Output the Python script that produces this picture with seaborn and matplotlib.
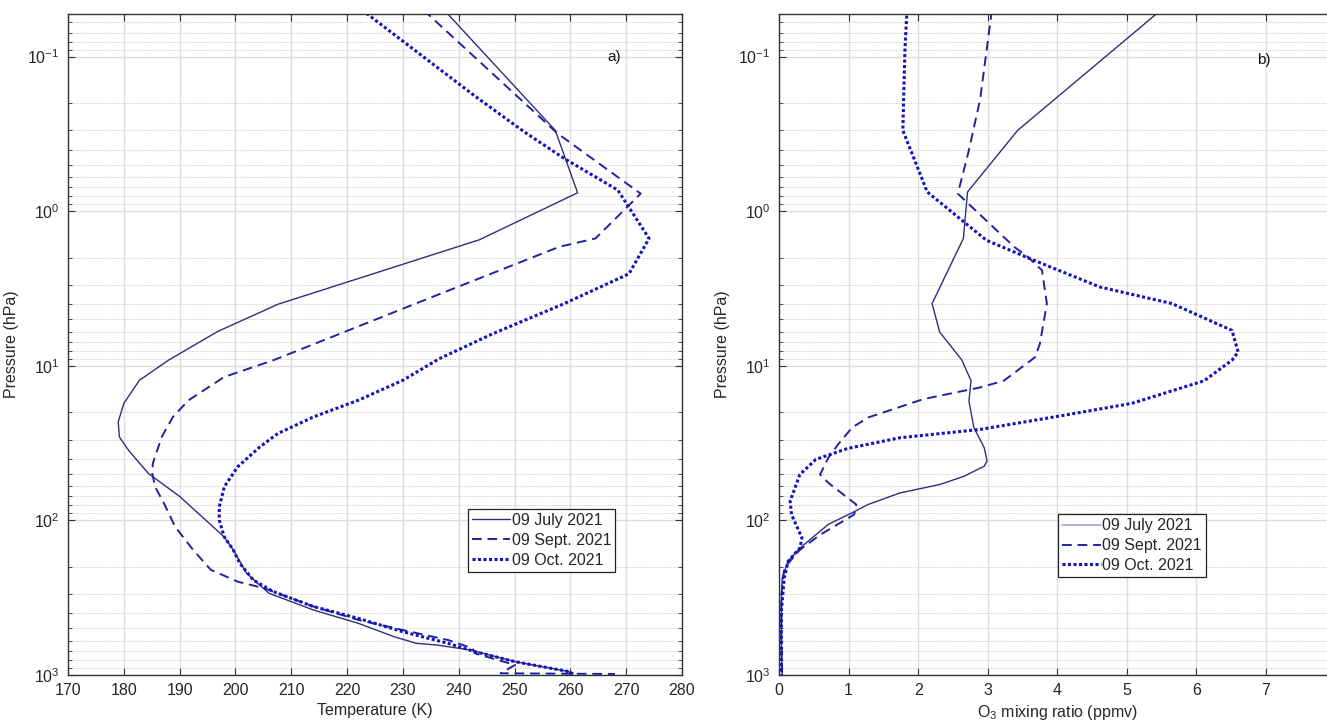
import seaborn as sns
import matplotlib.pyplot as plt
from matplotlib.lines import Line2D
from matplotlib.ticker import LogLocator, MultipleLocator, NullLocator, FixedLocator

# ---- panel a) temperature profiles (K) vs pressure (hPa) ----
july_t = [237.4, 257.3, 261.3, 243.7, 207.6, 196.8, 188.0, 182.8, 180.0, 179.0,
          179.2, 180.8, 184.4, 190.0, 198.0, 199.6, 202.0, 206.0, 214.0, 222.0,
          228.4, 232.4, 236.1, 242.1, 250.1, 259.7, 260.0]
july_t_p = [0.05, 0.30, 0.76, 1.53, 4.0, 6.0, 9.2, 12.4, 17.5, 23,
            28.8, 35, 49.7, 70, 128, 155, 220, 296, 380, 463,
            565, 624, 640, 689, 820, 950, 975]

sept_t = [233.7, 257.7, 272.6, 264.5, 258.0, 236.0, 206.8, 198.0, 191.6, 188.8,
          186.8, 185.2, 185.1, 185.6, 187.2, 189.2, 192.4, 195.6, 200.4, 205.2,
          214.0, 222.0, 230.0, 238.1, 242.5, 242.9, 250.1, 247.5, 268.0]
sept_t_p = [0.05, 0.314, 0.77, 1.50, 1.70, 3.5, 9.2, 11.8, 16.7, 21.4,
            28.8, 42.7, 49.6, 60.6, 77.6, 110, 155, 209, 249, 275,
            361, 440, 512, 594, 673, 725, 861, 975, 985]

oct_t = [222.7, 242.9, 251.7, 258.9, 268.5, 274.1, 270.5, 258.9, 246.1, 236.5,
         230.0, 222.0, 214.0, 207.6, 204.4, 200.4, 198.0, 197.1, 197.1, 198.0,
         199.6, 200.8, 203.2, 206.8, 214.0, 222.0, 230.0, 238.1, 242.9, 250.1,
         259.7, 260.5]
oct_t_p = [0.05, 0.18, 0.306, 0.456, 0.73, 1.50, 2.54, 3.96, 6.2, 9.0,
           12.4, 16.7, 21.4, 27.4, 33.4, 45, 60.6, 81.6, 99.6, 128,
           155, 190, 243, 289, 361, 430, 525, 624, 707, 820,
           950, 985]

# ---- panel b) ozone mixing ratio (ppmv) vs pressure (hPa) ----
july_o3 = [5.49, 3.43, 2.71, 2.65, 2.20, 2.31, 2.63, 2.76, 2.73, 2.80,
           2.95, 2.99, 2.95, 2.66, 2.31, 1.74, 1.28, 1.05, 0.71, 0.30,
           0.13, 0.046, 0.034, 0.034, 0.046]
july_o3_p = [0.05, 0.30, 0.75, 1.50, 3.96, 6.05, 9.2, 12.5, 16.9, 25,
             33.9, 41.3, 44.6, 51.8, 58.6, 66.4, 78.9, 89.3, 106, 151,
             184, 236, 334, 638, 1000]

sept_o3 = [3.06, 2.89, 2.72, 2.57, 3.38, 3.58, 3.78, 3.85, 3.75, 3.68,
           3.61, 3.23, 2.89, 2.08, 1.28, 1.05, 0.85, 0.71, 0.59, 0.71,
           1.11, 1.08, 0.59, 0.30, 0.075, 0.034, 0.034, 0.046]
sept_o3_p = [0.05, 0.19, 0.42, 0.77, 1.70, 1.98, 2.41, 3.96, 7.2, 8.8,
             9.3, 12.5, 13.8, 16.4, 21.6, 25.1, 32.2, 39.3, 50.5, 57.2,
             78.9, 91.6, 124, 155, 203, 303, 638, 1000]

oct_o3 = [1.84, 1.81, 1.78, 2.13, 2.98, 3.61, 4.61, 5.65, 6.51, 6.60,
          6.51, 6.11, 5.07, 4.04, 2.89, 1.74, 0.99, 0.53, 0.30, 0.16,
          0.18, 0.33, 0.30, 0.13, 0.075, 0.034, 0.034]
oct_o3_p = [0.05, 0.09, 0.30, 0.75, 1.54, 2.03, 3.09, 3.96, 5.9, 8.15,
            9.2, 12.5, 17.5, 21.1, 25.8, 29.2, 34.2, 40.3, 50.5, 75.1,
            91.6, 130, 151, 184, 236, 388, 1000]

labels = ["09 July 2021", "09 Sept. 2021", "09 Oct. 2021"]
o3_ticks = [0, 1, 2, 3, 4, 5, 6, 7]

# line looks (MATLAB-ish blues)
c_july, c_sept, c_oct = "#2e2e7c", "#22229e", "#1414bb"
ls_july, ls_sept, ls_oct = "-", (0, (5, 3)), (0, (1, 0.8))
lw_july, lw_sept, lw_oct = 1.0, 1.4, 2.2

sns.set_theme(style="ticks")
plt.rcParams["font.family"] = ["Liberation Sans", "DejaVu Sans"]
plt.rcParams["mathtext.default"] = "regular"
plt.rcParams["axes.unicode_minus"] = False
plt.rcParams["axes.edgecolor"] = "#333333"
plt.rcParams["axes.linewidth"] = 1.0

fig = plt.figure(figsize=(13.27, 7.25), dpi=100)
ax1 = fig.add_axes([68 / 1327, 50 / 725, 614 / 1327, 661 / 725])
ax2 = fig.add_axes([779 / 1327, 50 / 725, 556.6 / 1327, 661 / 725])


def draw(ax, x, p, color, ls, lw, label):
    sns.lineplot(x=x, y=p, ax=ax, sort=False, estimator=None, color=color,
                 linestyle=ls, linewidth=lw, label=label)


draw(ax1, july_t, july_t_p, c_july, ls_july, lw_july, labels[0])
draw(ax1, sept_t, sept_t_p, c_sept, ls_sept, lw_sept, labels[1])
draw(ax1, oct_t, oct_t_p, c_oct, ls_oct, lw_oct, labels[2])

draw(ax2, july_o3, july_o3_p, c_july, ls_july, lw_july, labels[0])
draw(ax2, sept_o3, sept_o3_p, c_sept, ls_sept, lw_sept, labels[1])
draw(ax2, oct_o3, oct_o3_p, c_oct, ls_oct, lw_oct, labels[2])


def style_axes(ax, xlim):
    ax.set_yscale("log")
    ax.set_ylim(1000, 0.053)
    ax.set_xlim(*xlim)
    ax.xaxis.set_minor_locator(NullLocator())
    ax.yaxis.set_major_locator(LogLocator(base=10))
    ax.yaxis.set_minor_locator(LogLocator(base=10, subs=range(2, 10)))
    ax.grid(which="major", color="#dedede", linewidth=1.0, linestyle="-")
    ax.grid(which="minor", axis="y", color="#c4c4c4", linewidth=0.7,
            linestyle=(0, (1, 1.5)))
    ax.set_axisbelow(True)
    ax.tick_params(which="both", direction="in", top=True, right=True,
                   color="#333333", labelsize=11.5, labelcolor="#262626", pad=6)
    ax.tick_params(which="major", length=5, width=0.8)
    ax.tick_params(which="minor", length=3, width=0.6)
    ax.set_ylabel("Pressure (hPa)", fontsize=11.5, color="#262626", labelpad=6)


style_axes(ax1, (170, 280))
ax1.xaxis.set_major_locator(MultipleLocator(10))
style_axes(ax2, (0, 8))
ax2.xaxis.set_major_locator(FixedLocator(o3_ticks))

ax1.set_xlabel("Temperature (K)", fontsize=11.5, color="#262626", labelpad=3)
ax2.set_xlabel("O$_3$ mixing ratio (ppmv)", fontsize=11.5, color="#262626", labelpad=3)

ax1.text(266.6, 0.1, "a)", fontsize=11, va="center", ha="left", color="#111111")
ax2.text(6.87, 0.105, "b)", fontsize=11, va="center", ha="left", color="#111111")

leg_kw = dict(loc="upper right", fontsize=11.5, frameon=True, fancybox=False,
              edgecolor="#222222", framealpha=1, handlelength=2.4,
              handletextpad=0.1, borderpad=0.25, labelspacing=0.3,
              borderaxespad=0)

h1, l1 = ax1.get_legend_handles_labels()
leg1 = ax1.legend(h1, l1, bbox_to_anchor=(0.891, 0.251), **leg_kw)
leg1.get_frame().set_linewidth(0.9)

# the July entry of panel b) is drawn lighter in the source figure
h2 = [Line2D([], [], color="#a6a6dc", linestyle=ls_july, linewidth=1.2),
      Line2D([], [], color=c_sept, linestyle=ls_sept, linewidth=lw_sept),
      Line2D([], [], color=c_oct, linestyle=ls_oct, linewidth=lw_oct)]
leg2 = ax2.legend(h2, labels, bbox_to_anchor=(0.767, 0.243), **leg_kw)
leg2.get_frame().set_linewidth(0.9)

fig.savefig("out.png", dpi=100)
